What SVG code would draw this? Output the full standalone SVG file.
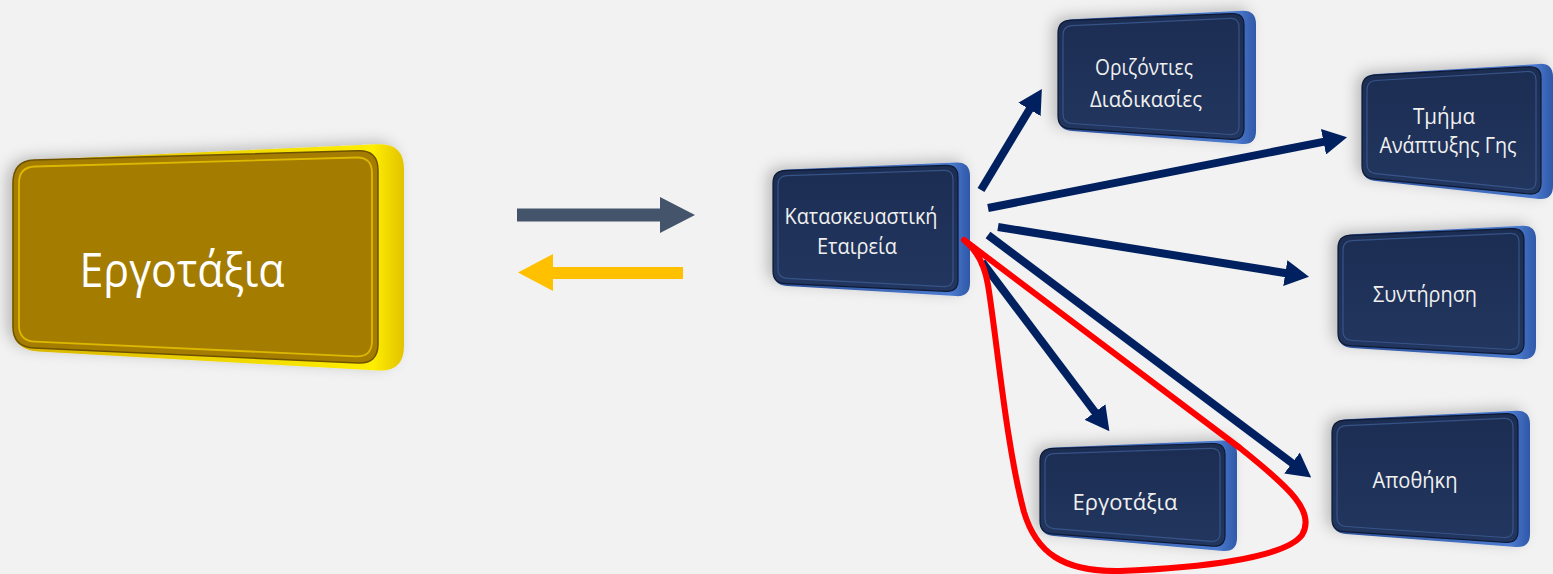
<svg xmlns="http://www.w3.org/2000/svg" width="1553" height="574" viewBox="0 0 1553 574">
<defs>
<filter id="sh" x="-20%" y="-20%" width="140%" height="140%">
<feGaussianBlur in="SourceAlpha" stdDeviation="7"/>
<feOffset dx="-6" dy="-3" result="b"/>
<feFlood flood-color="#000" flood-opacity="0.22"/>
<feComposite in2="b" operator="in"/>
<feMerge><feMergeNode/><feMergeNode in="SourceGraphic"/></feMerge>
</filter>
<linearGradient id="blueSide" x1="0" y1="0" x2="1" y2="0">
<stop offset="0" stop-color="#2B4F98"/>
<stop offset="0.9" stop-color="#4C7BCF"/>
<stop offset="1" stop-color="#2F58A8"/>
</linearGradient>
<linearGradient id="blueFace" x1="0" y1="0" x2="0" y2="1">
<stop offset="0" stop-color="#1C2D52"/>
<stop offset="1" stop-color="#22365F"/>
</linearGradient>
<linearGradient id="goldSide" x1="0" y1="0" x2="1" y2="0">
<stop offset="0" stop-color="#D8B400"/>
<stop offset="0.92" stop-color="#FFEE00"/>
<stop offset="1" stop-color="#E2C300"/>
</linearGradient>
<marker id="ah" markerUnits="userSpaceOnUse" markerWidth="24" markerHeight="26" refX="1" refY="13" orient="auto">
<path d="M0,0 L24,13 L0,26 Z" fill="#002060"/>
</marker>
</defs>
<style>
.bg{fill:#F2F2F2}
.bside{fill:url(#blueSide)}
.bface{fill:url(#blueFace);stroke:#0E1A35;stroke-width:1.2}
.binner{fill:none;stroke:#3D5C93;stroke-width:1.2;opacity:.8}
.t{font-family:"Open Sans","Noto Sans","Liberation Sans",sans-serif;fill:#F0F0F0;text-anchor:middle}
.conn{stroke:#002060;stroke-width:8;fill:none;marker-end:url(#ah)}
</style>
<rect class="bg" x="0" y="0" width="1553" height="574"/>

<g id="node-ergotaxia-main">
<path filter="url(#sh)" fill="url(#goldSide)" d="M38,159.8 L378,144.2 Q404,143 404,169 L404,346 Q404,372 378,370.5 L38,351.5 Q12,350 12,324 L12,187 Q12,161 38,159.8 Z"/>
<path fill="#A47C00" stroke="#6E5200" stroke-width="1.5" d="M34,160 L358,150.8 Q378,150 378,170 L378,344 Q378,364 358,363 L34,348 Q13,347 13,327 L13,183 Q13,161 34,160 Z"/>
<path fill="none" stroke="#DDB800" stroke-width="1.8" d="M35,166.5 L356,157.5 Q372,157 372,173 L372,341 Q372,357 356,356.3 L35,341.7 Q19,341 19,325 L19,183 Q19,167 35,166.5 Z"/>
<text class="t" x="182" y="287" font-size="47" style="fill:#FFFFFF" textLength="205" lengthAdjust="spacingAndGlyphs">Εργοτάξια</text>
</g>

<g id="exchange-arrows">
<polygon fill="#44546A" points="517,208.5 660,208.5 660,197 695,215 660,233 660,221.5 517,221.5"/>
<polygon fill="#FFC000" points="683,267 553,267 553,254 518,272.5 553,291 553,279 683,279"/>
</g>

<g id="node-kataskevastiki">
<path class="bside" filter="url(#sh)" d="M787,169.4 L956,162.6 Q970,162 970,176 L970,283 Q970,297 956,296.1 L787,285.9 Q773,285 773,271 L773,184 Q773,170 787,169.4 Z"/>
<path class="bface" d="M785,170.6 L946,165.4 Q958,165 958,177 L958,280 Q958,292 946,291.3 L785,283.7 Q773,283 773,271 L773,183 Q773,171 785,170.6 Z"/>
<path class="binner" d="M787,175.7 L944,170.3 Q953,170 953,179 L953,278 Q953,287 944,286.6 L787,278.4 Q778,278 778,269 L778,185 Q778,176 787,175.7 Z"/>
<text class="t" font-size="21"><tspan x="861" y="224" textLength="153" lengthAdjust="spacingAndGlyphs">Κατασκευαστική</tspan><tspan x="857" y="254" textLength="80" lengthAdjust="spacingAndGlyphs">Εταιρεία</tspan></text>
</g>

<g id="node-orizonties">
<path class="bside" filter="url(#sh)" d="M1072,19.3 L1242,10.7 Q1256,10 1256,24 L1256,131 Q1256,145 1242,144 L1072,131 Q1058,130 1058,116 L1058,34 Q1058,20 1072,19.3 Z"/>
<path class="bface" d="M1070,20.4 L1232,13.6 Q1244,13 1244,25 L1244,128 Q1244,140 1232,139.3 L1070,128.7 Q1058,128 1058,116 L1058,33 Q1058,21 1070,20.4 Z"/>
<path class="binner" d="M1072,25.6 L1230,18.4 Q1239,18 1239,27 L1239,126 Q1239,135 1230,134.5 L1072,123.5 Q1063,123 1063,114 L1063,35 Q1063,26 1072,25.6 Z"/>
<text class="t" font-size="21"><tspan x="1144" y="75" textLength="98" lengthAdjust="spacingAndGlyphs">Οριζόντιες</tspan><tspan x="1146" y="107" textLength="112" lengthAdjust="spacingAndGlyphs">Διαδικασίες</tspan></text>
</g>

<g id="node-tmima">
<path class="bside" filter="url(#sh)" d="M1376,74.1 L1539,63.9 Q1553,63 1553,77 L1553,186 Q1553,200 1539,199 L1376,181 Q1362,180 1362,166 L1362,89 Q1362,75 1376,74.1 Z"/>
<path class="bface" d="M1374,75.2 L1529,66.8 Q1541,66 1541,78 L1541,183 Q1541,195 1529,194 L1374,178.9 Q1362,178 1362,166 L1362,88 Q1362,76 1374,75.2 Z"/>
<path class="binner" d="M1376,80.5 L1527,71.5 Q1536,71 1536,80 L1536,181 Q1536,190 1527,189.3 L1376,173.7 Q1367,173 1367,164 L1367,90 Q1367,81 1376,80.5 Z"/>
<text class="t" font-size="21"><tspan x="1444" y="124" textLength="62" lengthAdjust="spacingAndGlyphs">Τμήμα</tspan><tspan x="1448" y="153" textLength="137" lengthAdjust="spacingAndGlyphs">Ανάπτυξης Γης</tspan></text>
</g>

<g id="node-syntirisi">
<path class="bside" filter="url(#sh)" d="M1352,234.3 L1522,225.7 Q1536,225 1536,239 L1536,346 Q1536,360 1522,359.1 L1352,347.9 Q1338,347 1338,333 L1338,249 Q1338,235 1352,234.3 Z"/>
<path class="bface" d="M1350,235.4 L1512,228.6 Q1524,228 1524,240 L1524,343 Q1524,355 1512,354.3 L1350,345.7 Q1338,345 1338,333 L1338,248 Q1338,236 1350,235.4 Z"/>
<path class="binner" d="M1352,240.6 L1510,233.4 Q1519,233 1519,242 L1519,341 Q1519,350 1510,349.5 L1352,340.5 Q1343,340 1343,331 L1343,250 Q1343,241 1352,240.6 Z"/>
<text class="t" font-size="21" x="1425" y="302" textLength="104" lengthAdjust="spacingAndGlyphs">Συντήρηση</text>
</g>

<g id="node-apothiki">
<path class="bside" filter="url(#sh)" d="M1346,419.3 L1516,410.7 Q1530,410 1530,424 L1530,534 Q1530,548 1516,547 L1346,534 Q1332,533 1332,519 L1332,434 Q1332,420 1346,419.3 Z"/>
<path class="bface" d="M1344,420.4 L1506,413.6 Q1518,413 1518,425 L1518,531 Q1518,543 1506,542.3 L1344,531.7 Q1332,531 1332,519 L1332,433 Q1332,421 1344,420.4 Z"/>
<path class="binner" d="M1346,425.6 L1504,418.4 Q1513,418 1513,427 L1513,529 Q1513,538 1504,537.5 L1346,526.5 Q1337,526 1337,517 L1337,435 Q1337,426 1346,425.6 Z"/>
<text class="t" font-size="21" x="1415" y="488" textLength="85" lengthAdjust="spacingAndGlyphs">Αποθήκη</text>
</g>

<g id="node-ergotaxia-small">
<path class="bside" filter="url(#sh)" d="M1054,447.4 L1223,440.6 Q1237,440 1237,454 L1237,538 Q1237,552 1223,551 L1054,536 Q1040,535 1040,521 L1040,462 Q1040,448 1054,447.4 Z"/>
<path class="bface" d="M1052,448.5 L1213,443.5 Q1225,443 1225,455 L1225,535 Q1225,547 1213,546.2 L1052,533.8 Q1040,533 1040,521 L1040,461 Q1040,449 1052,448.5 Z"/>
<path class="binner" d="M1054,453.7 L1211,448.3 Q1220,448 1220,457 L1220,533 Q1220,542 1211,541.4 L1054,528.6 Q1045,528 1045,519 L1045,463 Q1045,454 1054,453.7 Z"/>
<text class="t" font-size="21" x="1125" y="510" textLength="105" lengthAdjust="spacingAndGlyphs">Εργοτάξια</text>
</g>

<g id="connectors">
<line class="conn" x1="981" y1="190" x2="1030" y2="108.6"/>
<line class="conn" x1="988" y1="208" x2="1324.5" y2="141.6"/>
<line class="conn" x1="998" y1="227" x2="1286.3" y2="273.2"/>
<line class="conn" x1="988" y1="235" x2="1292.8" y2="463.6"/>
<line class="conn" x1="982" y1="262" x2="1095.6" y2="412.8"/>
<path fill="none" stroke="#FF0000" stroke-width="6" stroke-linejoin="round" stroke-linecap="round" d="M964,240 L1240,448 C1290,488 1316,512 1302,535 C1285,558 1200,568 1120,571 C1062,572 1036,552 1024,512 C1006,445 997,340 988,285 C984,260 974,248 964,240 Z"/>
</g>
</svg>
